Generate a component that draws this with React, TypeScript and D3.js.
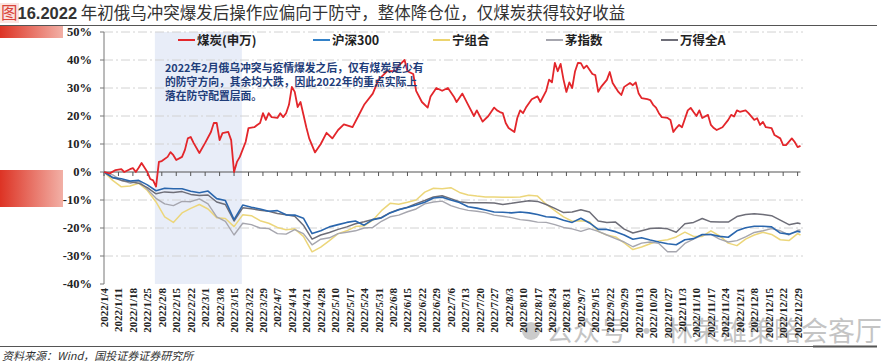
import React from 'react';
import * as d3 from 'd3';

// 2022 weekly tick labels (every 5 trading days)
const tickLabels = [
  '2022/1/4', '2022/1/11', '2022/1/18', '2022/1/25', '2022/2/8', '2022/2/15', '2022/2/22',
  '2022/3/1', '2022/3/8', '2022/3/15', '2022/3/22', '2022/3/29', '2022/4/7', '2022/4/14',
  '2022/4/21', '2022/4/28', '2022/5/10', '2022/5/17', '2022/5/24', '2022/5/31', '2022/6/8',
  '2022/6/15', '2022/6/22', '2022/6/29', '2022/7/6', '2022/7/13', '2022/7/20', '2022/7/27',
  '2022/8/3', '2022/8/10', '2022/8/17', '2022/8/24', '2022/8/31', '2022/9/7', '2022/9/15',
  '2022/9/22', '2022/9/29', '2022/10/13', '2022/10/20', '2022/10/27', '2022/11/3',
  '2022/11/10', '2022/11/17', '2022/11/24', '2022/12/1', '2022/12/8', '2022/12/15',
  '2022/12/22', '2022/12/29',
];
const lastDay = 241;
const yTicks = [50, 40, 30, 20, 10, 0, -10, -20, -30, -40];

// coal (SW) : [trading day, % return]
const coal: [number, number][] = [
  [0, 0], [2, -0.5], [4, 0.7], [6, 1], [7, 0], [9, 1], [10, 1.4], [11, 0], [12, 1.5], [13, 3.2],
  [15, 0], [16, -2.5], [17, -3], [18, -5.2], [19, 3.6], [20, 3.9], [22, 5.4], [23, 7.1], [24, 6],
  [25, 4.3], [27, 5.4], [28, 7.9], [29, 12], [30, 12.5], [31, 10.4], [33, 6.8], [35, 10.4],
  [37, 14.3], [38, 17.5], [39, 17.5], [40, 11.4], [41, 13.9], [43, 14.3], [44, 11.4], [45, 0],
  [46, 3.6], [47, 5.4], [49, 10.7], [50, 15.7], [52, 16], [53, 16.8], [54, 17.5], [55, 21],
  [56, 18.6], [57, 21], [58, 19.6], [60, 19.3], [61, 21], [62, 19.6], [63, 21], [64, 24],
  [65, 30.4], [66, 28.6], [67, 23.2], [68, 25], [70, 16], [71, 12], [73, 7], [75, 10], [77, 14],
  [79, 12], [81, 15], [83, 17], [86, 16], [88, 20], [90, 24], [93, 28], [95, 33], [98, 36],
  [101, 36], [102, 38], [104, 40], [105, 36], [107, 35], [108, 29], [110, 25], [112, 23],
  [113, 27], [115, 30], [117, 29], [119, 30], [121, 27], [122, 25], [124, 28], [126, 24],
  [128, 20], [129, 22], [131, 18], [133, 20], [135, 23], [136, 22], [137, 21.4], [138, 21],
  [139, 17.5], [140, 15.7], [142, 14.3], [143, 19.3], [144, 22], [145, 21], [146, 23], [148, 26],
  [150, 27], [151, 25], [153, 29], [154, 33], [155, 32], [156, 39], [157, 36], [158, 38.6],
  [159, 33], [160, 28.6], [161, 32], [162, 30], [163, 36], [164, 39], [165, 38.9], [166, 37],
  [167, 38], [169, 35], [170, 34.6], [171, 28.6], [172, 30.4], [174, 32.9], [175, 35.7],
  [176, 31.8], [178, 28.6], [179, 27.5], [180, 30.4], [182, 31.8], [183, 31], [184, 32],
  [185, 28], [186, 26.4], [188, 26], [189, 25.7], [190, 24], [191, 23], [192, 21], [193, 19.6],
  [195, 19.3], [196, 18.6], [197, 14.3], [198, 15.7], [199, 16.8], [200, 16], [202, 22],
  [203, 22.9], [204, 21.4], [205, 20], [206, 22], [207, 19.3], [209, 20.4], [210, 16.8],
  [211, 15.7], [212, 15], [214, 16], [216, 18.6], [217, 20.4], [218, 19.8], [219, 22],
  [220, 21.5], [222, 22], [223, 21], [225, 18.6], [226, 19.2], [227, 16.8], [228, 17.9],
  [229, 16], [231, 15.7], [232, 13.2], [234, 12], [235, 9.6], [236, 9.6], [238, 12],
  [239, 10.7], [240, 8.9], [241, 9.3],
];

// other series sampled every 3 trading days (0,3,...,240) plus the last day
const sampleDays = [...d3.range(0, 241, 3), lastDay];
const hs300 = [
  0, -2, -2.4, -3.2, -3, -4.6, -6.7, -5.8, -6, -6,
  -6.9, -7.4, -6.8, -9.5, -10.2, -17, -11.8, -12.6, -13.2, -14,
  -13.8, -15.3, -15.4, -16.5, -22, -21, -19.6, -18.8, -18, -17.5,
  -19, -17, -16.4, -14.6, -13.5, -12.7, -11.8, -10.8, -9.3, -9,
  -10, -10.9, -12.4, -12.9, -13.6, -14.3, -14.4, -14.6, -14.3, -14.6,
  -15.2, -16, -16.2, -17.2, -18, -16.5, -18.2, -20.5, -20.5, -21.3,
  -22.5, -24, -23.5, -24.3, -25, -25.6, -26, -24.2, -23.8, -22.3,
  -22.3, -23, -23.3, -21, -19.9, -19.4, -19.4, -19.6, -21.8, -22.2,
  -21.2, -21.4,
];
const ningCombo = [
  0, -3, -5.3, -5, -4, -6.6, -10.7, -16, -18, -14.6,
  -13, -11.6, -13.2, -16.3, -16.6, -19.5, -15.3, -15.6, -17.4, -18.3,
  -19.8, -20.6, -20.3, -23, -28.5, -26.8, -24.5, -22, -21, -19.5,
  -19.2, -17.2, -13.8, -11.2, -11.5, -10.8, -10, -7.2, -5.8, -6,
  -5.6, -7.3, -8.2, -8.6, -8.9, -8.9, -9, -9, -8.9, -8.3,
  -8.6, -11.5, -13.8, -16, -17.6, -17.4, -17.8, -21.2, -22.5, -23.2,
  -25.3, -27.7, -26.8, -25.6, -24.6, -24.2, -23.2, -21.5, -23, -23,
  -21, -22.8, -25.4, -26.3, -24, -22.5, -21.5, -22.3, -24.2, -24.5,
  -22, -22.5,
];
const maoIndex = [
  0, -1, -3, -4, -3.2, -6.2, -9.4, -11.4, -12, -10.5,
  -10.6, -9.6, -11.4, -16, -17.6, -22.5, -18.3, -18.8, -20, -20.2,
  -22, -22.2, -20.6, -22, -26, -24, -23.5, -22, -21.5, -21,
  -20, -19.8, -17.6, -16, -15.4, -14.2, -13.2, -11.4, -10.7, -10.4,
  -12, -13, -13.7, -14, -14.5, -15.4, -15.8, -16.3, -17, -17.3,
  -17.9, -18, -18.8, -19.8, -20.3, -21.2, -20.2, -21.2, -22.5, -23.8,
  -25, -26.7, -25.4, -25, -25.5, -28.5, -28.5, -25.5, -24, -22.5,
  -22.3, -24, -25, -24.5, -23.2, -21.6, -21, -20.2, -21, -22.5,
  -20.8, -20.7,
];
const windA = [
  0, -2, -3, -3.5, -4, -5.6, -7.8, -7.1, -7.3, -7,
  -8, -8.4, -8.2, -10.7, -11.6, -17.5, -12.8, -13.1, -13.7, -14,
  -14.8, -15.3, -15.8, -19, -24, -22.5, -21.6, -20.5, -19.6, -18.5,
  -17.8, -17, -16.2, -14.5, -13.4, -12.6, -11.3, -10.2, -8.9, -8.5,
  -9.5, -10.6, -11, -11, -11, -11.1, -11.6, -11.2, -10.7, -10.3,
  -10.5, -11.6, -13, -14.5, -14.3, -13.5, -14.3, -17.5, -18, -17.9,
  -20.4, -21.8, -21, -20.2, -20, -20.3, -21.5, -18.5, -18, -16.6,
  -17.8, -17.9, -17.9, -15.9, -15.2, -14.9, -15.2, -15.6, -17.2, -18.8,
  -18.2, -18.5,
];

// shaded period (Russia-Ukraine conflict + outbreak), in trading days
const shadeDays = [17.6, 47.7];

const legendItems = [
  { name: '煤炭(申万)', color: '#e3262b', x: 178 },
  { name: '沪深300', color: '#3381c8', x: 313 },
  { name: '宁组合', color: '#ecd46e', x: 433 },
  { name: '茅指数', color: '#a6a6ae', x: 546 },
  { name: '万得全A', color: '#6e6e78', x: 661 },
];

const noteLines = [
  '2022年2月俄乌冲突与疫情爆发之后，仅有煤炭是少有',
  '的防守方向，其余均大跌，因此2022年的重点实际上',
  '落在防守配置层面。',
];

const W = 881;
const H = 363;
const serif = '"Liberation Serif", "Times New Roman", serif';
const cjk = '"Noto Sans CJK SC", "Noto Sans", sans-serif';

const App: React.FC = () => {
  const x = d3.scaleLinear().domain([0, lastDay]).range([104, 800.5]);
  const y = d3.scaleLinear().domain([-40, 50]).range([284, 32]);

  const line = d3.line<[number, number]>()
    .x(d => x(d[0]))
    .y(d => y(d[1]));

  const pairs = (vals: number[]) => vals.map((v, i) => [sampleDays[i], v] as [number, number]);

  const series = [
    { vals: pairs(ningCombo), color: '#ecd67a', w: 1.5 },
    { vals: pairs(maoIndex), color: '#a6a6ae', w: 1.4 },
    { vals: pairs(windA), color: '#6e6e78', w: 1.5 },
    { vals: pairs(hs300), color: '#2a66ad', w: 1.6 },
    { vals: coal, color: '#e3262b', w: 1.8 },
  ];

  const plotRight = 803;

  return (
    <svg width={W} height={H} style={{ position: 'absolute', left: 0, top: 0, background: '#fff' }}>
      <defs>
        <linearGradient id="redBlock" x1="0" x2="1" y1="0" y2="0">
          <stop offset="0%" stopColor="#dd3324" />
          <stop offset="100%" stopColor="#f2b0a6" />
        </linearGradient>
      </defs>
      <rect width={W} height={H} fill="#fff" />

      {/* title */}
      <rect x={0} y={3} width={19} height={20} fill="#fbe3e0" />
      <text x={1} y={19} fontFamily={cjk} fontSize={16.5} fill="#333">
        <tspan fill="#d8443a">图</tspan>
        <tspan fontWeight={700} fontFamily={'"Liberation Sans", Arial, sans-serif'}>16.2022</tspan>
        <tspan> 年初俄乌冲突爆发后操作应偏向于防守，整体降仓位，仅煤炭获得较好收益</tspan>
      </text>
      <line x1={0} x2={877} y1={25.5} y2={25.5} stroke="#555" strokeWidth={1} />
      <rect x={0} y={26} width={63} height={12} fill="url(#redBlock)" />
      <rect x={0} y={170} width={63} height={37} fill="url(#redBlock)" />

      {/* shaded period */}
      <rect x={x(shadeDays[0])} y={y(50)} width={x(shadeDays[1]) - x(shadeDays[0])}
        height={y(-40) - y(50)} fill="#e8edf8" />

      {/* gridlines */}
      {yTicks.filter(t => t !== 0 && t !== -40).map(t => (
        <line key={t} x1={104} x2={plotRight} y1={y(t)} y2={y(t)} stroke="#d2d2d2"
          strokeWidth={1} strokeDasharray="9,3,2,3" />
      ))}

      {/* y axis */}
      <line x1={104} x2={104} y1={y(50)} y2={y(-40)} stroke="#777" strokeWidth={1} />
      {yTicks.map(t => (
        <g key={t}>
          <line x1={100} x2={104} y1={y(t)} y2={y(t)} stroke="#777" />
          <text x={92} y={y(t) + 4} textAnchor="end" fontFamily={serif} fontWeight={700}
            fontSize={12.5} fill="#222">{t}%</text>
        </g>
      ))}

      {/* watermark */}
      <g opacity={0.5}>
        <circle cx={531} cy={331} r={9} fill="#999" />
        <text x={546} y={341} fontFamily={cjk} fontSize={27} fill="#8a8a8a">公众号 · 林荣雄策略会客厅</text>
      </g>

      {/* x axis at 0% */}
      <line x1={104} x2={800.5} y1={y(0)} y2={y(0)} stroke="#555" strokeWidth={1.2} />
      {tickLabels.map((lab, i) => {
        const tx = x(i * 5);
        return (
          <g key={lab}>
            <line x1={tx} x2={tx} y1={y(0)} y2={y(0) + 4} stroke="#555" />
            <text transform={`translate(${tx + 4},288) rotate(-90)`} textAnchor="end"
              fontFamily={serif} fontWeight={700} fontSize={11} fill="#222">{lab}</text>
          </g>
        );
      })}

      {/* series */}
      {series.map((s, i) => (
        <path key={i} d={line(s.vals) || ''} fill="none" stroke={s.color} strokeWidth={s.w}
          strokeLinejoin="round" />
      ))}

      {/* legend */}
      {legendItems.map(it => (
        <g key={it.name}>
          <line x1={it.x} x2={it.x + 17} y1={40} y2={40} stroke={it.color} strokeWidth={2} />
          <text x={it.x + 19} y={44.5} fontFamily={cjk} fontWeight={700} fontSize={12.5}
            fill="#222">{it.name}</text>
        </g>
      ))}

      {/* annotation */}
      {noteLines.map((t, i) => (
        <text key={i} x={165} y={71.5 + i * 14} fontFamily={cjk} fontWeight={700} fontSize={10.8}
          fill="#1f3d7a">{t}</text>
      ))}

      {/* footer */}
      <line x1={0} x2={877} y1={346.5} y2={346.5} stroke="#555" strokeWidth={1} />
      <line x1={813} x2={877} y1={346.5} y2={346.5} stroke="#555" strokeWidth={2} />
      <text x={2} y={360} fontFamily={cjk} fontStyle="italic" fontSize={11} fill="#333">
        资料来源：Wind，国投证券证券研究所
      </text>
    </svg>
  );
};

export default App;
